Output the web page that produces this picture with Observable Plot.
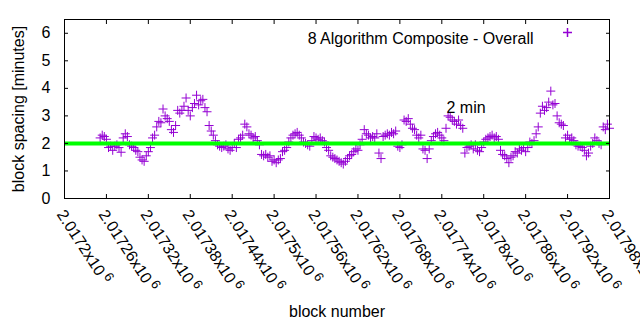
<!DOCTYPE html>
<html>
<head>
<meta charset="utf-8">
<script src="https://cdn.jsdelivr.net/npm/d3@7"></script>
<script src="https://cdn.jsdelivr.net/npm/@observablehq/plot@0.6"></script>
<style>
  html, body { margin: 0; padding: 0; background: #fff; }
  #chart { width: 640px; height: 330px; }
</style>
</head>
<body>
<div id="chart"></div>
<script>
const blocks = [
  2017251,2017254,2017257,2017260,2017263,2017266,2017269,2017272,2017275,2017278,
  2017281,2017284,2017287,2017290,2017293,2017296,2017299,2017302,2017305,2017308,
  2017311,2017314,2017317,2017320,2017323,2017326,2017329,2017332,2017335,2017338,
  2017341,2017344,2017347,2017350,2017353,2017356,2017359,2017362,2017365,2017368,
  2017371,2017374,2017377,2017380,2017383,2017386,2017389,2017392,2017395,2017398,
  2017401,2017404,2017407,2017410,2017413,2017416,2017419,2017422,2017425,2017428,
  2017431,2017434,2017437,2017440,2017443,2017446,2017449,2017452,2017455,2017458,
  2017461,2017464,2017467,2017470,2017473,2017476,2017479,2017482,2017485,2017488,
  2017491,2017494,2017497,2017500,2017503,2017506,2017509,2017512,2017515,2017518,
  2017521,2017524,2017527,2017530,2017533,2017536,2017539,2017542,2017545,2017548,
  2017551,2017554,2017557,2017560,2017563,2017566,2017569,2017572,2017575,2017578,
  2017581,2017584,2017587,2017590,2017593,2017596,2017599,2017602,2017605,2017608,
  2017611,2017614,2017617,2017620,2017623,2017626,2017629,2017632,2017635,2017638,
  2017641,2017644,2017647,2017650,2017653,2017656,2017659,2017662,2017665,2017668,
  2017671,2017674,2017677,2017680,2017683,2017686,2017689,2017692,2017695,2017698,
  2017701,2017704,2017707,2017710,2017713,2017716,2017719,2017722,2017725,2017728,
  2017731,2017734,2017737,2017740,2017743,2017746,2017749,2017752,2017755,2017758,
  2017761,2017764,2017767,2017770,2017773,2017776,2017779,2017782,2017785,2017788,
  2017791,2017794,2017797,2017800,2017803,2017806,2017809,2017812,2017815,2017818,
  2017821,2017824,2017827,2017830,2017833,2017836,2017839,2017842,2017845,2017848,
  2017851,2017854,2017857,2017860,2017863,2017866,2017869,2017872,2017875,2017878,
  2017881,2017884,2017887,2017890,2017893,2017896,2017899,2017902,2017905,2017908,
  2017911,2017914,2017917,2017920,2017923,2017926,2017929,2017932,2017935,2017938,
  2017941,2017944,2017947,2017950,2017953,2017956,2017959,2017962,2017965,2017968,
  2017971,2017974,2017977,2017980
];
const spacing = [
  2.2,2.3,2.25,2.15,1.85,1.9,1.75,1.9,1.95,1.85,
  1.68,2.2,2.35,2.25,1.95,1.9,1.85,1.75,1.7,1.5,
  1.4,1.35,1.55,1.7,1.85,2.2,2.3,2.6,2.8,2.75,
  3.25,3.0,2.9,2.8,2.5,2.4,2.65,3.2,3.1,3.2,
  3.35,3.65,3.2,3.0,3.3,3.45,3.75,3.4,3.55,3.6,
  3.3,3.15,2.65,2.45,2.3,2.1,1.95,1.9,1.85,1.9,
  1.95,1.8,1.75,1.85,2.0,1.85,2.15,2.2,2.3,2.7,
  2.6,2.35,2.3,2.2,2.25,2.1,1.95,1.6,1.55,1.6,
  1.5,1.55,1.35,1.4,1.3,1.4,1.45,1.7,1.75,1.85,
  2.05,2.2,2.3,2.35,2.4,2.3,2.2,2.05,2.0,1.95,
  1.9,2.1,2.25,2.2,2.15,2.2,2.1,2.05,1.85,1.75,
  1.55,1.5,1.45,1.4,1.35,1.3,1.25,1.35,1.45,1.55,
  1.6,1.7,1.8,1.75,1.95,2.15,2.5,2.35,2.3,2.2,
  2.25,2.2,2.35,1.65,1.45,2.25,2.3,2.35,2.3,2.4,
  2.35,2.45,1.9,1.85,1.95,2.85,2.8,2.9,2.7,2.55,
  2.5,2.3,2.2,2.3,1.8,1.75,1.45,1.8,2.1,2.25,
  2.35,2.4,2.3,2.2,2.1,2.55,3.0,2.95,2.85,2.8,
  2.7,2.85,2.65,2.55,1.65,1.85,1.9,1.95,1.8,1.95,
  1.75,1.7,1.85,2.05,2.15,2.2,2.25,2.3,2.2,2.25,
  2.15,1.75,1.6,1.55,1.45,1.3,1.5,1.55,1.7,1.65,
  1.8,1.75,1.85,1.7,1.85,2.05,2.0,2.1,2.35,2.6,
  3.1,3.35,3.2,3.3,3.5,3.9,3.4,3.45,3.0,2.75,
  2.7,2.65,2.2,2.3,2.15,2.2,2.1,1.95,1.9,1.9,
  1.85,1.75,1.55,1.65,1.9,2.0,2.2,2.1,2.0,1.95,
  2.6,2.5,2.7,2.55
];
const xTicks = [2017200,2017260,2017320,2017380,2017440,2017500,2017560,2017620,2017680,2017740,2017800,2017860,2017920,2017980];
const xTickLabels = ["2.0172","2.01726","2.01732","2.01738","2.01744","2.0175","2.01756","2.01762","2.01768","2.01774","2.0178","2.01786","2.01792","2.01798"];
const xTickExponent = "6";
const yTicks = [0,1,2,3,4,5,6];
const targetMinutes = [2];
const seriesLabel = "8 Algorithm Composite - Overall";
const targetLabel = "2 min";
const xLabel = "block number";
const yLabel = "block spacing [minutes]";

const data = blocks.map((b, i) => ({block: b, spacing: spacing[i]}));
const purple = "#9400d3";
const FONT = "'Liberation Sans', Arial, sans-serif";

const plot = Plot.plot({
  width: 640,
  height: 330,
  marginLeft: 64,
  marginRight: 31,
  marginTop: 19,
  marginBottom: 132,
  style: {fontFamily: FONT, fontSize: "16px", background: "#fff", color: "#000"},
  x: {domain: [2017200, 2017980]},
  y: {domain: [0, 6.5]},
  marks: [
    Plot.dot(data, {x: "block", y: "spacing", symbol: "plus", r: 3, stroke: purple, fill: "none", strokeWidth: 1}),
    Plot.ruleY(targetMinutes, {stroke: "#00ff00", strokeWidth: 4}),
    Plot.frame({stroke: "#000", strokeWidth: 1}),
    // inward ticks on four sides
    Plot.axisX({anchor: "bottom", ticks: xTicks, tickSize: 4, dy: -4, tickFormat: () => "", label: null}),
    Plot.axisX({anchor: "top", ticks: xTicks, tickSize: 4, dy: 4, tickFormat: () => "", label: null}),
    Plot.axisY({anchor: "left", ticks: yTicks, tickSize: 4, dx: 4, tickFormat: () => "", label: null}),
    Plot.axisY({anchor: "right", ticks: yTicks, tickSize: 4, dx: -4, tickFormat: () => "", label: null}),
    // y tick labels
    Plot.axisY({anchor: "left", ticks: yTicks, tickSize: 0, tickPadding: 14, fontSize: 16, tickFormat: d3.format("d"), label: null}),
    // y title
    Plot.text([yLabel], {frameAnchor: "left", dx: -46, rotate: -90, textAnchor: "middle", lineAnchor: "middle", fontSize: 16}),
    // x tick labels (rotated)
    Plot.text(xTicks, {x: d => d, frameAnchor: "bottom", text: (d, i) => xTickLabels[i] + "x10", rotate: 57, textAnchor: "start", lineAnchor: "middle", dx: -4, dy: 13, fontSize: 16}),
    Plot.text([xLabel], {frameAnchor: "bottom", dy: 118, fontSize: 16}),
    // legend
    Plot.text([seriesLabel], {frameAnchor: "top-right", dx: -76, dy: 13, textAnchor: "end", fontSize: 16}),
    Plot.dot([seriesLabel], {frameAnchor: "top-right", dx: -42, dy: 13, symbol: "plus", r: 3, stroke: purple, fill: "none"}),
    // annotation
    Plot.text([targetLabel], {frameAnchor: "top-left", dx: 382, dy: 82, textAnchor: "start", fontSize: 16})
  ]
});

d3.select(plot).selectAll("text").each(function () {
  const t = this.textContent;
  if (/x10$/.test(t) && this.children.length === 0) {
    d3.select(this).append("tspan").attr("dx", 3).attr("dy", -6).attr("font-size", 13).text(xTickExponent);
  }
});

document.getElementById("chart").appendChild(plot);
</script>
</body>
</html>
